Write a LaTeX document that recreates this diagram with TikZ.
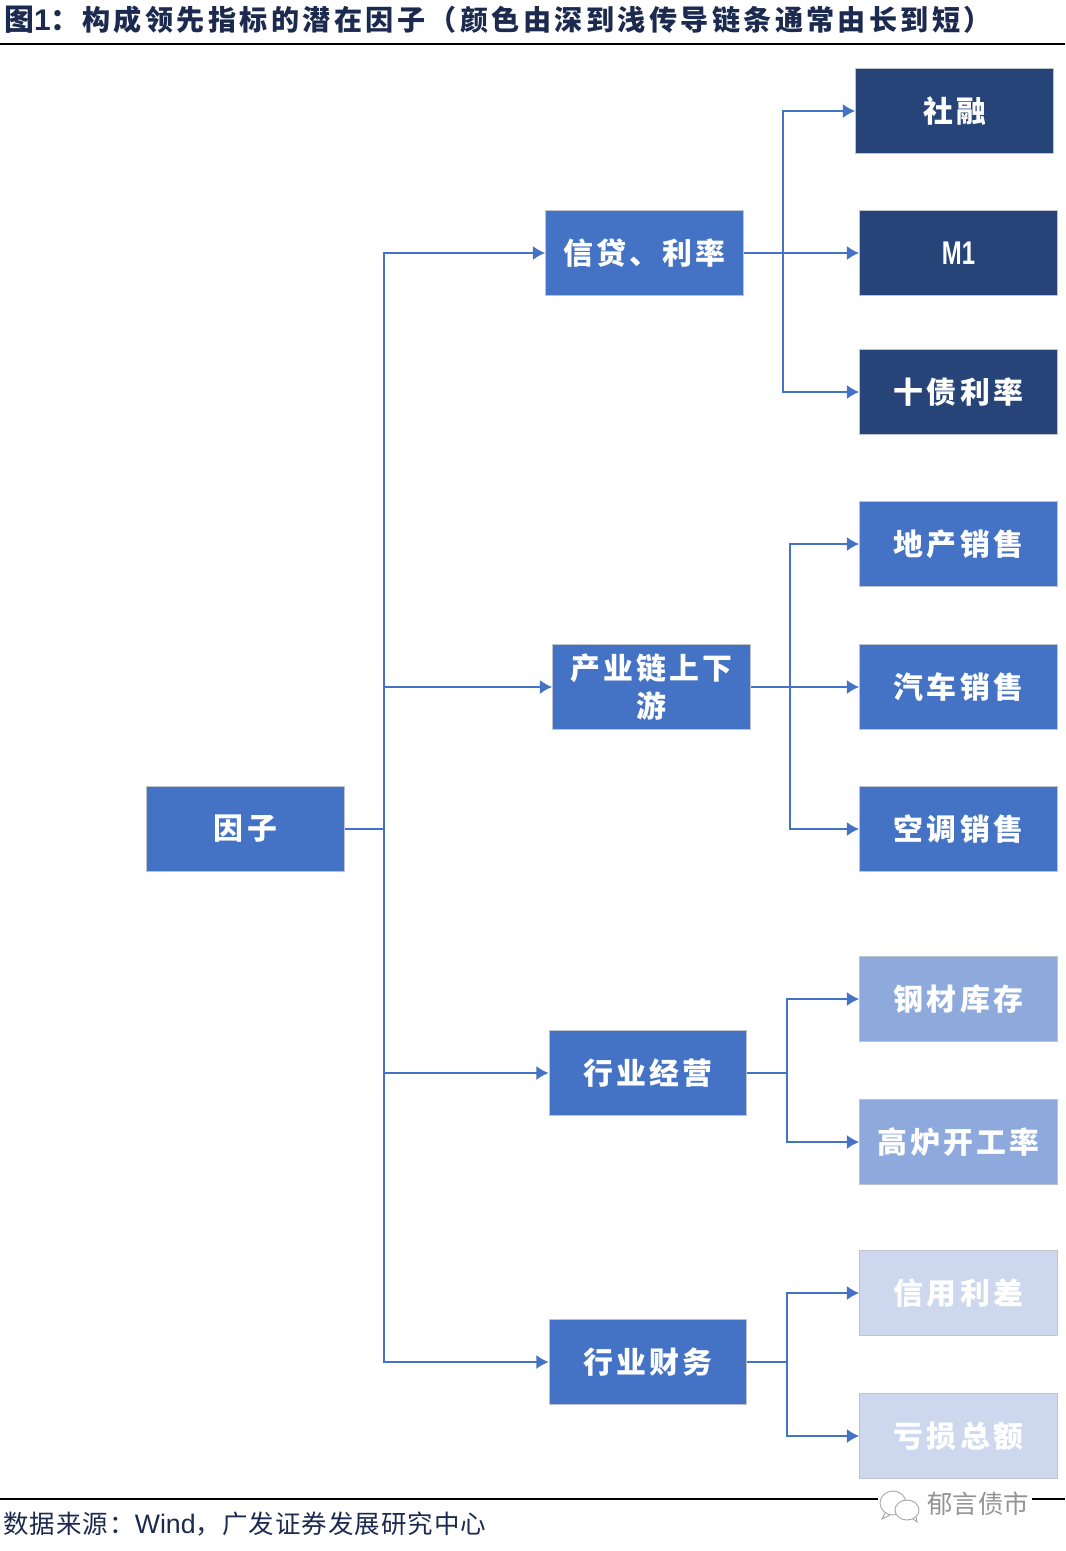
\documentclass[tikz,border=0pt]{standalone}
\usepackage{fontspec}
\setmainfont{Liberation Sans}
\newfontfamily\cjk{Noto Sans CJK SC}
\newfontfamily\boxfont[LetterSpace=11]{Noto Sans CJK SC}
\newfontfamily\titlefont[LetterSpace=12]{Noto Sans CJK SC}
\newfontfamily\notefont[LetterSpace=4]{Noto Sans CJK SC}
\usetikzlibrary{calc,arrows.meta}
\definecolor{navyblue}{HTML}{264478}
\definecolor{midblue}{HTML}{4472C4}
\definecolor{softblue}{HTML}{8EA9DB}
\definecolor{paleblue}{HTML}{CDD8EE}
\definecolor{boxedge}{HTML}{BFC3CC}
\definecolor{titleink}{HTML}{1B2A4E}
\tikzset{
  factor/.style={draw=boxedge, line width=0.7pt, fill=#1, text=white, inner sep=0pt, align=center,
    minimum width=3.95cm, minimum height=1.71cm, font=\boxfont\bfseries\fontsize{17}{22}\selectfont},
  link/.style={draw=midblue, line width=0.95pt},
  linkto/.style={link, -{Latex[length=7pt,width=8pt]}},
  caption/.style={anchor=west, inner sep=0pt},
}
\begin{document}
\begin{tikzpicture}[x=0.02cm, y=-0.02cm]
    \useasboundingbox (0,0) rectangle (1065,1551);

    \node[caption, text=titleink, font=\bfseries\fontsize{17}{20}\selectfont] (title) at (4,20)
      {{\titlefont 图}1{\titlefont ^^^^ff1a}};
    \node[caption, text=titleink, font=\titlefont\bfseries\fontsize{16}{20}\selectfont] (titletext) at (82,20)
      {构成领先指标的潜在因子（颜色由深到浅传导链条通常由长到短）};
    \coordinate (topL) at (0,44);
    \coordinate (topR) at (1065,44);
    \draw[line width=0.6pt] (topL) -- (topR);

    % first level
    \node[factor=midblue] (yinzi) at (245.5,829) {因子};

    % second level
    \node[factor=midblue] (credit) at (644.5,253) {信贷、利率};
    \node[factor=midblue] (chain) at (651.5,687) {产业链上下\\游};
    \node[factor=midblue] (operate) at (648,1073) {行业经营};
    \node[factor=midblue] (finance) at (648,1362) {行业财务};

    % third level
    \node[factor=navyblue] (sheRong) at (954.5,111) {社融};
    \node[factor=navyblue] (mOne) at (958.5,253) {\scalebox{0.8}[1.1]{\rmfamily\bfseries M1}};
    \node[factor=navyblue] (tenYear) at (958.5,392) {十债利率};
    \node[factor=midblue] (house) at (958.5,544) {地产销售};
    \node[factor=midblue] (car) at (958.5,687) {汽车销售};
    \node[factor=midblue] (aircon) at (958.5,829) {空调销售};
    \node[factor=softblue] (steel) at (958.5,999) {钢材库存};
    \node[factor=softblue] (furnace) at (958.5,1142) {高炉开工率};
    \node[factor=paleblue] (spread) at (958.5,1293) {信用利差};
    \node[factor=paleblue] (loss) at (958.5,1436) {亏损总额};

    \coordinate (trunk) at (384,829);
    \coordinate (trunkA) at (783,253);
    \coordinate (trunkB) at (790,687);
    \coordinate (trunkC) at (787,1073);
    \coordinate (trunkD) at (787,1362);

    \draw[link] (yinzi) -- (trunk);
    \draw[linkto] (trunk) |- (credit);
    \draw[linkto] (trunk) |- (chain);
    \draw[linkto] (trunk) |- (operate);
    \draw[linkto] (trunk) |- (finance);

    \draw[linkto] (credit) -- (mOne);
    \draw[linkto] (trunkA) |- (sheRong);
    \draw[linkto] (trunkA) |- (tenYear);

    \draw[linkto] (chain) -- (car);
    \draw[linkto] (trunkB) |- (house);
    \draw[linkto] (trunkB) |- (aircon);

    \draw[link] (operate) -- (trunkC);
    \draw[linkto] (trunkC) |- (steel);
    \draw[linkto] (trunkC) |- (furnace);

    \draw[link] (finance) -- (trunkD);
    \draw[linkto] (trunkD) |- (spread);
    \draw[linkto] (trunkD) |- (loss);

    % source line
    \coordinate (botL) at (0,1499);
    \coordinate (botR) at (1065,1499);
    \draw[line width=0.6pt] (botL) -- (botR);
    \node[caption, text=titleink, font=\fontsize{15.2}{18}\selectfont] (source) at (3,1524)
      {{\notefont\fontsize{14.5}{18}\selectfont 数据来源^^^^ff1a}Wind{\notefont\fontsize{14.5}{18}\selectfont ^^^^ff0c广发证券发展研究中心}};

    % watermark
    \fill[white] (878,1488) rectangle (1032,1522);
    \draw[gray!70, line width=0.5pt, fill=white] (893,1503) ellipse (13 and 12);
    \draw[gray!70, line width=0.5pt] (885,1513) -- (882,1519) -- (890,1515);
    \draw[gray!70, line width=0.5pt, fill=white] (907,1510) ellipse (12 and 10);
    \draw[gray!70, line width=0.5pt] (913,1519) -- (917,1522) -- (916,1517);
    \node[caption, text=gray!85, font=\cjk\fontsize{14.5}{18}\selectfont] (mark) at (927,1504) {郁言债市};
\end{tikzpicture}
\end{document}
